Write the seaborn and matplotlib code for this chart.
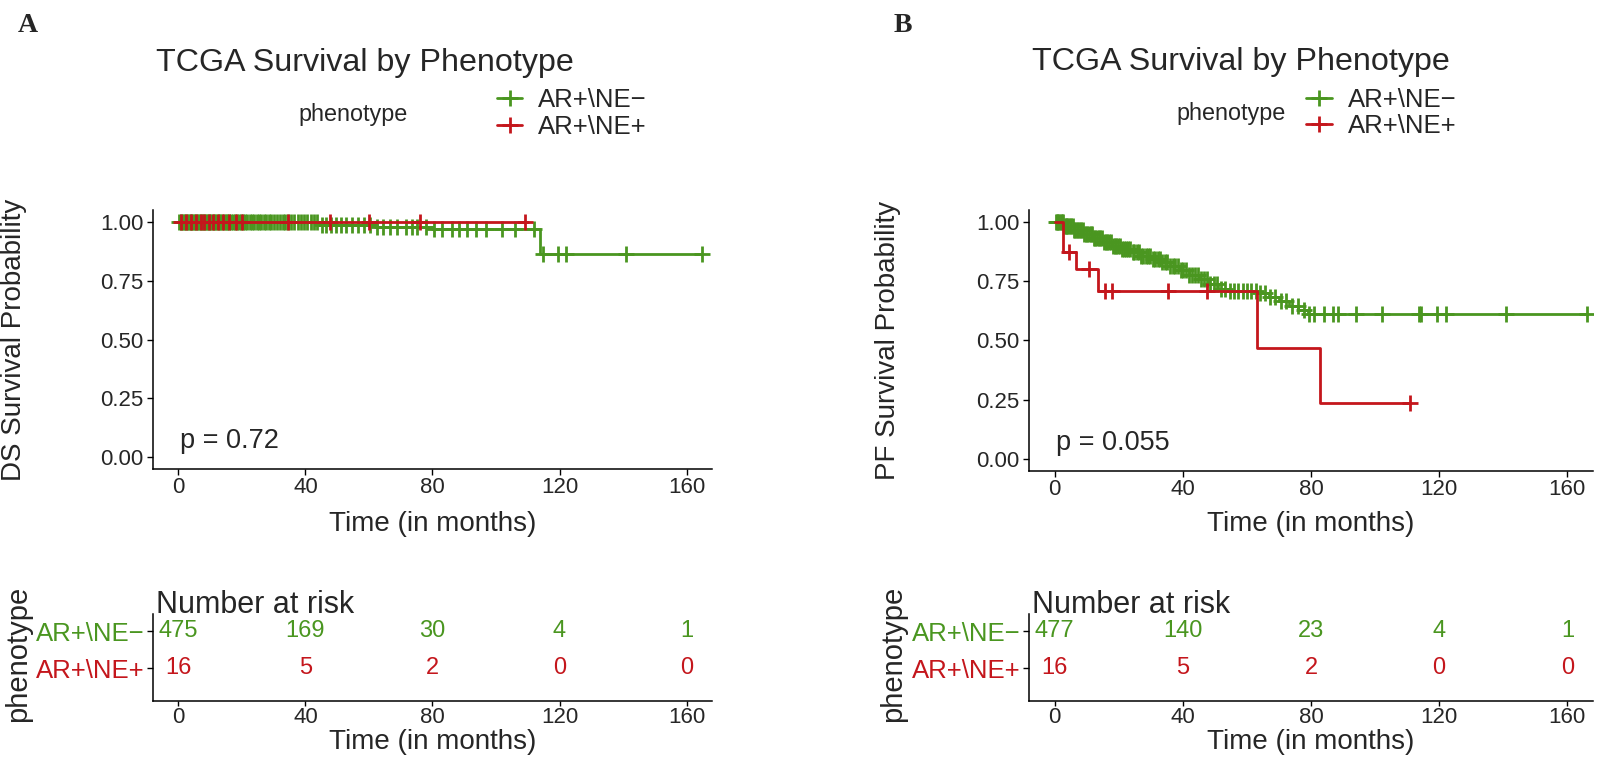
import numpy as np
import pandas as pd
import matplotlib
matplotlib.use("Agg")
import matplotlib.pyplot as plt
from matplotlib.lines import Line2D
import seaborn as sns

sns.set_theme(style="ticks")
plt.rcParams["font.family"] = ["Liberation Sans", "DejaVu Sans"]

GREEN = "#4a9620"
RED = "#c4161c"
groups = ["AR+\\NE\u2212", "AR+\\NE+"]
risk_times = [0, 40, 80, 120, 160]

# ---- panel A: disease-specific survival ----
a_green_time = [0, 44, 62, 80, 113.8]
a_green_surv = [1.0, 0.986, 0.976, 0.970, 0.862]
a_green_end = 165
a_green_cens = [0.3, 0.8, 1.2, 1.7, 2.1, 2.6, 3, 3.5, 3.9, 4.4, 4.9, 5.3, 5.8,
                6.3, 6.8, 7.2, 7.7, 8.2, 8.7, 9.1, 9.6, 10.1, 10.6, 11.1, 11.6,
                12.1, 12.7, 13.2, 13.8, 14.3, 14.9, 15.4, 16, 16.6, 17.2, 17.8,
                18.4, 19, 19.7, 20.3, 21, 21.7, 22.4, 23.1, 23.8, 24.6, 25.3,
                26.1, 26.9, 27.7, 28.5, 29.3, 30.2, 31, 31.9, 32.8, 33.7, 34.6,
                35.6, 36.5, 37.5, 38.5, 39.5, 40.6, 41.7, 42.8, 43.6, 45.2, 46.5,
                48, 49.6, 51.2, 52.9, 54.7, 56.5, 58.3, 60.2, 62.5, 64.4, 66.5,
                68.7, 71.7, 73.5, 75.2, 78, 80.5, 83, 86, 88.5, 91, 93.6, 97,
                102, 106, 112, 114.8, 119.5, 122.1, 140.9, 165]
a_red_time = [0]
a_red_surv = [1.0]
a_red_end = 110
a_red_cens = [0.8, 2.5, 4, 5.5, 7, 8.2, 9.5, 11, 12.5, 14, 16, 18, 20, 34.6,
              47.8, 60, 76, 109]
a_risk_green = [475, 169, 30, 4, 1]
a_risk_red = [16, 5, 2, 0, 0]
a_pval = "p = 0.72"

# ---- panel B: progression-free survival ----
b_green_time = [0, 3, 6, 9, 12, 15, 18, 21, 24, 27, 30, 33, 36, 39, 42, 45, 48,
                51, 54, 64, 67, 70, 73, 76, 79]
b_green_surv = [1.0, 0.982, 0.965, 0.948, 0.931, 0.915, 0.900, 0.886, 0.872,
                0.858, 0.844, 0.830, 0.814, 0.797, 0.778, 0.758, 0.738, 0.715,
                0.708, 0.700, 0.685, 0.665, 0.645, 0.628, 0.612]
b_green_end = 166
b_green_cens = [0.3, 0.7, 1.1, 1.5, 1.9, 2.3, 2.7, 3.1, 3.5, 3.9, 4.3, 4.8,
                5.2, 5.6, 6.1, 6.5, 7, 7.4, 7.9, 8.3, 8.8, 9.2, 9.7, 10.2, 10.7,
                11.2, 11.7, 12.2, 12.7, 13.2, 13.7, 14.3, 14.8, 15.3, 15.9,
                16.4, 17, 17.5, 18.1, 18.7, 19.3, 19.9, 20.5, 21.1, 21.7, 22.3,
                23, 23.6, 24.3, 24.9, 25.6, 26.3, 27, 27.7, 28.4, 29.1, 29.8,
                30.6, 31.3, 32.1, 32.9, 33.6, 34.4, 35.2, 36, 36.8, 37.6, 38.5,
                39.3, 40.2, 41.1, 42, 42.9, 43.8, 44.7, 45.7, 46.6, 47.6, 48.6,
                49.7, 50.8, 52, 53.3, 54.6, 56, 57.3, 58.7, 60, 61.4, 62.8,
                64.2, 65.7, 67.3, 68.9, 70.5, 72.2, 74, 75.8, 77.7, 79.5, 81,
                84, 86.8, 88.5, 94, 102, 113.6, 114.2, 119.2, 122, 141, 166]
b_red_time = [0, 2.5, 6.8, 13.5, 63.3, 82.7]
b_red_surv = [1.0, 0.873, 0.80, 0.71, 0.47, 0.235]
b_red_end = 111
b_red_cens = [4.6, 10.8, 15.8, 18, 35.4, 47.7, 111]
b_risk_green = [477, 140, 23, 4, 1]
b_risk_red = [16, 5, 2, 0, 0]
b_pval = "p = 0.055"


def step_value(times, surv, t):
    idx = np.searchsorted(times, t, side="right") - 1
    return np.asarray(surv)[idx]


def draw_curve(ax, times, surv, end, cens, color):
    df = pd.DataFrame({"time": list(times) + [end],
                       "surv": list(surv) + [surv[-1]]})
    sns.lineplot(data=df, x="time", y="surv", ax=ax, color=color, lw=2,
                 drawstyle="steps-post", estimator=None, sort=False)
    cdf = pd.DataFrame({"time": cens, "surv": step_value(times, surv, cens)})
    ax.plot(cdf["time"], cdf["surv"], ls="none", marker="+", ms=12, mew=2,
            color=color)


def style_spines(ax):
    sns.despine(ax=ax)
    for s in ax.spines.values():
        s.set_color("black")
        s.set_linewidth(1.1)


def survival_panel(ax, green, red, ylabel_text, pval, letter, fig_x, leg_x):
    draw_curve(ax, *green, GREEN)
    draw_curve(ax, *red, RED)
    ax.set_xlim(-8, 168)
    ax.set_ylim(-0.05, 1.05)
    ax.set_xticks(risk_times)
    ax.set_yticks([0, 0.25, 0.5, 0.75, 1.0])
    ax.set_yticklabels(["0.00", "0.25", "0.50", "0.75", "1.00"])
    ax.tick_params(axis="y", labelsize=16, length=4, width=1, pad=3,
                   color="black")
    ax.tick_params(axis="x", labelsize=16, length=4, width=1, pad=1.5,
                   color="black")
    ax.set_xlabel("")
    ax.set_ylabel("")
    style_spines(ax)
    ax.text(0.5, 0.07, pval, fontsize=19.5, ha="left", va="center")
    ax.text(0.005, 1.568, "TCGA Survival by Phenotype", transform=ax.transAxes,
            fontsize=23.2, ha="left", va="center")
    ax.text(0.455, 1.37, "phenotype", transform=ax.transAxes, fontsize=16.8,
            ha="right", va="center")
    handles = [Line2D([0], [0], color=c, marker="+", ms=12, mew=2, lw=2)
               for c in (GREEN, RED)]
    ax.legend(handles, groups, loc="center left", bbox_to_anchor=(leg_x, 1.372),
              frameon=False, fontsize=18.5, handlelength=1.0,
              handletextpad=0.6, labelspacing=0.1, borderpad=0)
    pos = ax.get_position()
    fig.text(pos.x0 + pos.width / 2, 1 - 524 / 761, "Time (in months)",
             fontsize=20, ha="center", va="center")
    fig.text(fig_x, pos.y0 + pos.height / 2, ylabel_text, fontsize=20,
             rotation=90, ha="center", va="center")
    fig.text(pos.x0 - 135 / 1615, 1 - 25 / 761, letter, fontsize=20,
             family="Liberation Serif", weight="bold", ha="left", va="center")


def risk_panel(ax, risk_green, risk_red, fig_x):
    for t, g, r in zip(risk_times, risk_green, risk_red):
        ax.text(t, 1, str(g), color=GREEN, fontsize=17, ha="center", va="center")
        ax.text(t, 0, str(r), color=RED, fontsize=17, ha="center", va="center")
    ax.set_xlim(-8, 168)
    ax.set_ylim(-0.89, 1.46)
    ax.set_xticks(risk_times)
    ax.set_yticks([1, 0])
    ax.set_yticklabels(groups)
    for lab, c in zip(ax.get_yticklabels(), (GREEN, RED)):
        lab.set_color(c)
    ax.tick_params(axis="y", labelsize=18.5, length=4, width=1, pad=2,
                   color="black")
    ax.tick_params(axis="x", labelsize=16, length=3.5, width=1, pad=1,
                   color="black")
    style_spines(ax)
    ax.text(0.005, 1.103, "Number at risk", transform=ax.transAxes,
            fontsize=22, ha="left", va="center")
    pos = ax.get_position()
    fig.text(pos.x0 + pos.width / 2, 1 - 742 / 761, "Time (in months)",
             fontsize=20, ha="center", va="center")
    fig.text(fig_x, 1 - 654 / 761, "phenotype", fontsize=21,
             rotation=90, ha="center", va="center")


fig = plt.figure(figsize=(16.15, 7.61), dpi=100)
axA = fig.add_axes([153 / 1615, 1 - 469 / 761, 559 / 1615, 259 / 761])
axB = fig.add_axes([1029 / 1615, 1 - 471 / 761, 564 / 1615, 261 / 761])
rA = fig.add_axes([153 / 1615, 1 - 701 / 761, 559 / 1615, 87 / 761])
rB = fig.add_axes([1029 / 1615, 1 - 701 / 761, 564 / 1615, 87 / 761])

survival_panel(axA,
               (a_green_time, a_green_surv, a_green_end, a_green_cens),
               (a_red_time, a_red_surv, a_red_end, a_red_cens),
               "DS Survival Probability", a_pval, "A", 14.5 / 1615, 0.592)
survival_panel(axB,
               (b_green_time, b_green_surv, b_green_end, b_green_cens),
               (b_red_time, b_red_surv, b_red_end, b_red_cens),
               "PF Survival Probability", b_pval, "B", 888 / 1615, 0.469)
risk_panel(rA, a_risk_green, a_risk_red, 18.5 / 1615)
risk_panel(rB, b_risk_green, b_risk_red, 893 / 1615)

fig.savefig("out.png", dpi=100, facecolor="white")
